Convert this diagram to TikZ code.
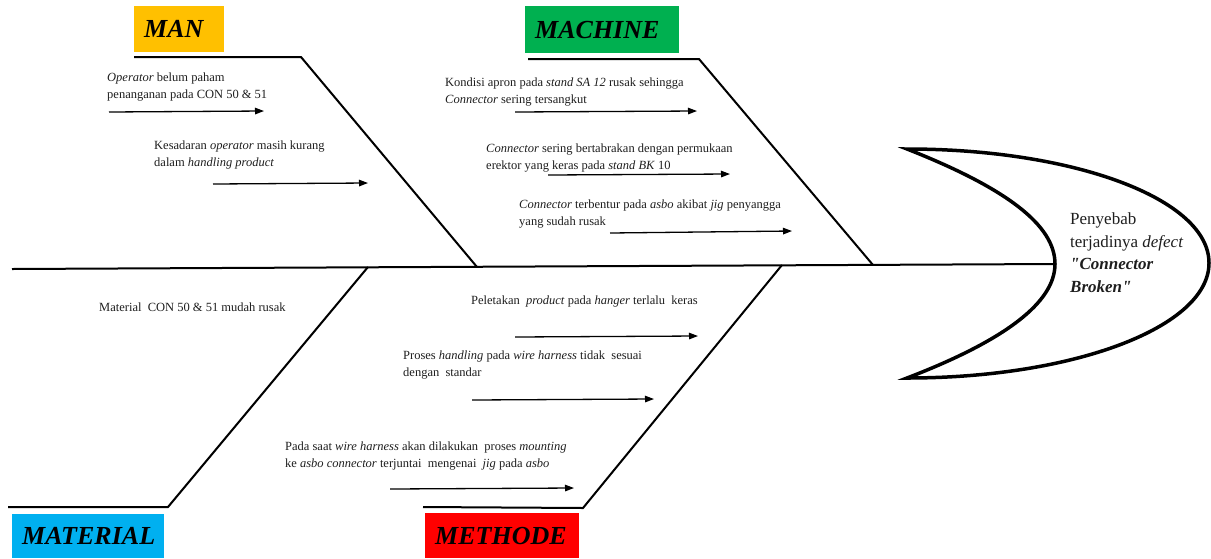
\documentclass[tikz,border=0pt]{standalone}
\usepackage{fontspec}
\setmainfont{Liberation Serif}[Ligatures=TeXOff]
\usetikzlibrary{arrows.meta}
\definecolor{manc}{RGB}{255,192,0}
\definecolor{machc}{RGB}{0,176,80}
\definecolor{matc}{RGB}{0,176,240}
\definecolor{methc}{RGB}{255,0,0}
\definecolor{txt}{RGB}{30,30,30}
\begin{document}
\begin{tikzpicture}[x=1pt,y=-1pt,
  bone/.style={line width=2pt, line join=miter},
  spineline/.style={line width=2pt},
  headline/.style={line width=3.5pt, line join=miter},
  causearrow/.style={line width=1.3pt, -{Triangle[length=9pt,width=6.5pt]}},
  cause/.style={anchor=base west, inner sep=0pt, align=left, text=txt,
    font=\fontsize{12.5}{16.5}\selectfont},
  catbox/.style={anchor=north west, inner xsep=10pt, inner ysep=0pt, align=left,
    font=\fontsize{26}{28}\selectfont\bfseries\itshape, text=black},
  effecttext/.style={anchor=base west, inner sep=0pt, align=left, text=txt,
    font=\fontsize{17}{22.5}\selectfont}
]
\useasboundingbox (0,0) rectangle (1211,558);

% category boxes
\node[catbox, fill=manc, text width=70pt, minimum height=46pt] (man) at (134,6) {MAN};
\node[catbox, fill=machc, text width=134pt, minimum height=47pt] (machine) at (525,6) {MACHINE};
\node[catbox, fill=matc, text width=132pt, minimum height=44pt] (material) at (12,514) {MATERIAL};
\node[catbox, fill=methc, text width=134pt, minimum height=45pt] (methode) at (425,513) {METHODE};

% spine and head
\coordinate (spineL) at (12,269);
\coordinate (spineR) at (1055,264);
\coordinate (headT) at (907,149);
\coordinate (headB) at (907,378);
\coordinate (headO) at (1209,263);
\draw[spineline] (spineL) -- (spineR);
\draw[headline] (headT) .. controls (1006,188) and (1055,225) .. (spineR)
  .. controls (1055,302) and (1006,340) .. (headB)
  .. controls (1074,378) and (1209,327) .. (headO)
  .. controls (1209,199) and (1074,149) .. (headT) -- cycle;
\node[effecttext] (effect) at (1070,292) {Penyebab\\terjadinya \textit{defect}\\\textbf{\textit{"Connector}}\\\textbf{\textit{Broken"}}};

% bones
\coordinate (manA) at (134,57);
\coordinate (manB) at (301,57);
\coordinate (manC) at (477,267);
\draw[bone] (manA) -- (manB) -- (manC);
\coordinate (machA) at (528,59);
\coordinate (machB) at (699,59);
\coordinate (machC) at (873,265);
\draw[bone] (machA) -- (machB) -- (machC);
\coordinate (matA) at (8,507);
\coordinate (matB) at (168,507);
\coordinate (matC) at (368,267);
\draw[bone] (matA) -- (matB) -- (matC);
\coordinate (metA) at (423,507);
\coordinate (metB) at (583,508);
\coordinate (metC) at (782,265);
\draw[bone] (metA) -- (metB) -- (metC);

% MAN causes
\node[cause] (m1) at (107,98) {\textit{Operator} belum paham\\penanganan pada CON 50 \& 51};
\coordinate (m1s) at (109,112); \coordinate (m1e) at (264,111);
\draw[causearrow] (m1s) -- (m1e);
\node[cause] (m2) at (154,166) {Kesadaran \textit{operator} masih kurang\\dalam \textit{handling product}};
\coordinate (m2s) at (213,184); \coordinate (m2e) at (368,183);
\draw[causearrow] (m2s) -- (m2e);

% MACHINE causes
\node[cause] (mc1) at (445,103) {Kondisi apron pada \textit{stand SA 12} rusak sehingga\\\textit{Connector} sering tersangkut};
\coordinate (mc1s) at (515,112); \coordinate (mc1e) at (697,111);
\draw[causearrow] (mc1s) -- (mc1e);
\node[cause] (mc2) at (486,169) {\textit{Connector} sering bertabrakan dengan permukaan\\erektor yang keras pada \textit{stand BK} 10};
\coordinate (mc2s) at (548,175); \coordinate (mc2e) at (730,174);
\draw[causearrow] (mc2s) -- (mc2e);
\node[cause] (mc3) at (519,225) {\textit{Connector} terbentur pada \textit{asbo} akibat \textit{jig} penyangga\\yang sudah rusak};
\coordinate (mc3s) at (610,233); \coordinate (mc3e) at (792,231);
\draw[causearrow] (mc3s) -- (mc3e);

% MATERIAL cause
\node[cause] (mt1) at (99,311) {Material~ CON 50 \& 51 mudah rusak};

% METHODE causes
\node[cause] (me1) at (471,304) {Peletakan~ \textit{product} pada \textit{hanger} terlalu~ keras};
\coordinate (me1s) at (515,337); \coordinate (me1e) at (698,336);
\draw[causearrow] (me1s) -- (me1e);
\node[cause] (me2) at (403,376) {Proses \textit{handling} pada \textit{wire harness} tidak~ sesuai\\dengan~ standar};
\coordinate (me2s) at (472,400); \coordinate (me2e) at (654,399);
\draw[causearrow] (me2s) -- (me2e);
\node[cause] (me3) at (285,467) {Pada saat \textit{wire harness} akan dilakukan~ proses \textit{mounting}\\ke \textit{asbo connector} terjuntai~ mengenai~ \textit{jig} pada \textit{asbo}};
\coordinate (me3s) at (390,489); \coordinate (me3e) at (574,488);
\draw[causearrow] (me3s) -- (me3e);
\end{tikzpicture}
\end{document}
